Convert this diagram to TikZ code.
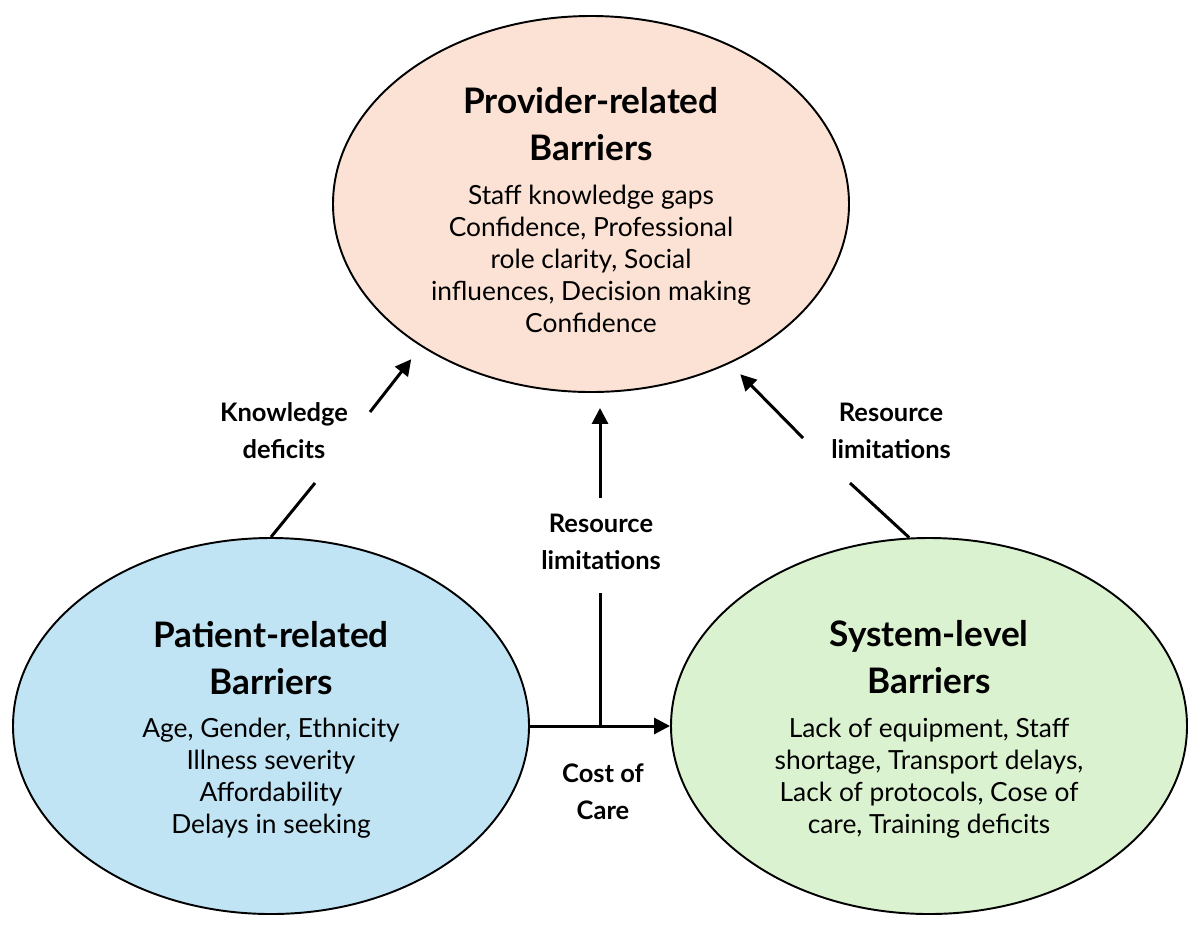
\documentclass[tikz,border=0pt]{standalone}
\usepackage{fontspec}
\setmainfont{Lato}
\usetikzlibrary{shapes.geometric,arrows.meta}

\definecolor{provfill}{HTML}{FBE2D5}
\definecolor{patfill}{HTML}{C1E4F5}
\definecolor{sysfill}{HTML}{DAF2D0}

\tikzset{
    barrier/.style={ellipse, draw, line width=1.1pt, inner sep=0pt,
        minimum width=103.2mm, minimum height=75.2mm},
    bartitle/.style={align=center, font=\fontsize{20}{27.2}\selectfont\bfseries},
    barbody/.style={align=center, font=\fontsize{15}{18.1}\selectfont},
    factor/.style={align=center, font=\fontsize{14.5}{21}\selectfont\bfseries},
    conn/.style={line width=1.7pt},
    arr/.style={conn, -{Triangle[length=3.2mm,width=3.2mm]}}
}

\begin{document}
\begin{tikzpicture}[x=0.2mm,y=-0.2mm]
    % --- Canvas ---
    \useasboundingbox (0,0) rectangle (1200,926);

    % --- The three barrier groups ---
    \node[barrier, fill=provfill] (prov) at (591,204) {};
    \node[barrier, fill=patfill]  (pat)  at (271,726) {};
    \node[barrier, fill=sysfill]  (sys)  at (929,726) {};

    % --- Texts inside the ellipses ---
    \node[bartitle] (prov-title) at (591,124) {Provider-related\\Barriers};
    \node[barbody]  (prov-body)  at (591,259) {Staff knowledge gaps\\Confidence, Professional\\role clarity, Social\\influences, Decision making\\Confidence};

    \node[bartitle] (pat-title) at (271,658) {Patient-related\\Barriers};
    \node[barbody]  (pat-body)  at (271,778) {Age, Gender, Ethnicity\\Illness severity\\Affordability\\Delays in seeking};

    \node[bartitle] (sys-title) at (929,657) {System-level\\Barriers};
    \node[barbody]  (sys-body)  at (929,778) {Lack of equipment, Staff\\shortage, Transport delays,\\Lack of protocols, Cose of\\care, Training deficits};

    % --- Factor labels ---
    \node[factor] (know) at (284,431) {Knowledge\\deficits};
    \node[factor] (res-mid) at (601,542) {Resource\\limitations};
    \node[factor] (res-right) at (891,431) {Resource\\limitations};
    \node[factor] (cost) at (603,792) {Cost of\\Care};

    % --- Gaps around the labels ---
    \coordinate (know-in)  at (315,483);
    \coordinate (know-out) at (370,412);
    \coordinate (mid-in)   at (600,593);
    \coordinate (mid-out)  at (600,498);
    \coordinate (right-in)  at (850,483);
    \coordinate (right-out) at (803,438);
    \coordinate (join) at (600,726);

    % --- Connectors ---
    % Patient -> Provider
    \draw[conn] (pat.north) -- (know-in);
    \draw[arr, shorten >=3.2mm] (know-out) -- (prov.220);
    % Cost of care: Patient -> System, branch up to Provider
    \draw[arr] (pat.east) -- (sys.west);
    \draw[conn] (join) -- (mid-in);
    \draw[arr, shorten >=3mm] (mid-out) -- (mid-out |- prov.south);
    % System -> Provider
    \draw[conn] (sys.96) -- (right-in);
    \draw[arr, shorten >=3mm] (right-out) -- (prov.311);

\end{tikzpicture}
\end{document}
